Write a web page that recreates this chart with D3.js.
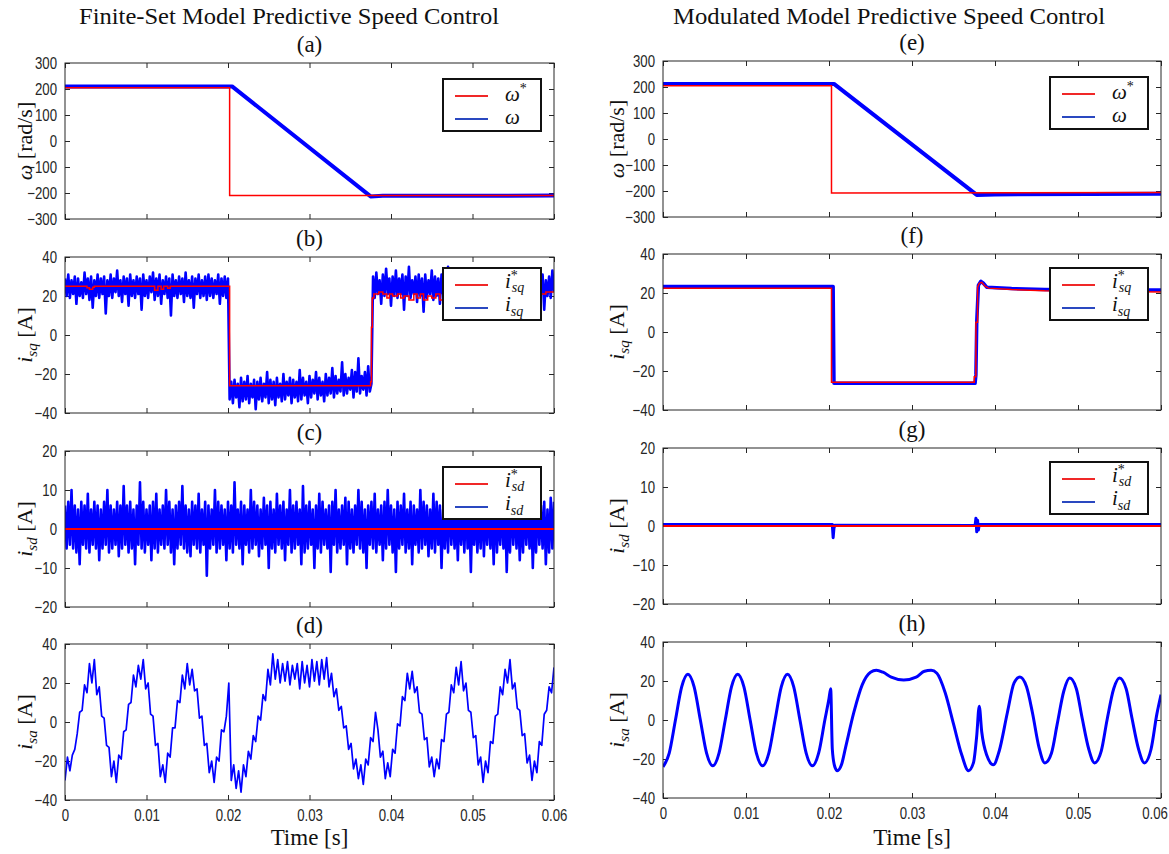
<!DOCTYPE html>
<html>
<head>
<meta charset="utf-8">
<script src="https://cdn.jsdelivr.net/npm/d3@7"></script>
<style>
body { margin: 0; background: #fff; }
.tick text { font-family: "Liberation Sans", Arial, sans-serif; font-size: 16.5px; fill: #262626; }
.tick line { stroke: #262626; }
</style>
</head>
<body>
<div id="chart"></div>
<script>
// ---- data ----
const timeTicks = [0, 0.01, 0.02, 0.03, 0.04, 0.05, 0.06];
const timeTickLabels = ["0", "0.01", "0.02", "0.03", "0.04", "0.05", "0.06"];
const speedTicks = [-300, -200, -100, 0, 100, 200, 300];
const isqTicks = [-40, -20, 0, 20, 40];
const isdTicks = [-20, -10, 0, 10, 20];
const isaTicks = [-40, -20, 0, 20, 40];

// (a) FCS speed  [t, value]
const speedRefFCS = [[0, 205], [0.0202, 205], [0.0202, -210], [0.06, -210]];
const speedFCS = [[0, 210], [0.0205, 210], [0.0375, -213], [0.039, -211], [0.06, -210]];

// (b) FCS i_sq : reference is a staircase, measured sampled every 0.2 ms
const isqRefFCS = [[0, 25], [0.0027, 24.2], [0.003, 23.5], [0.0034, 24.5], [0.0036, 25], [0.011, 23], [0.0114, 25],
  [0.0118, 23.5], [0.0121, 25], [0.0126, 24], [0.0129, 25], [0.0202, -26], [0.0375, -24], [0.0376, 4], [0.0377, 19],
  [0.0379, 21], [0.0385, 22], [0.039, 21], [0.0395, 19], [0.0398, 21], [0.0402, 20], [0.0408, 21], [0.0412, 19],
  [0.0416, 20], [0.0422, 18], [0.0428, 21], [0.0432, 19], [0.0436, 21], [0.044, 18], [0.0445, 20], [0.045, 19],
  [0.0455, 21], [0.046, 18], [0.0466, 20], [0.047, 19], [0.0478, 20], [0.0485, 18], [0.049, 20], [0.0498, 19],
  [0.0505, 21], [0.051, 19], [0.0518, 20], [0.0525, 18], [0.053, 20], [0.054, 19], [0.0548, 21], [0.0555, 19],
  [0.0565, 18], [0.057, 20], [0.058, 21], [0.059, 22], [0.06, 22]];
const isqFCS = [
  29, 20, 31, 19, 28, 21, 30, 16, 29, 20, 27, 19, 32, 21, 29, 18, 30, 14, 28, 20,
  31, 19, 29, 21, 30, 11, 28, 20, 31, 19, 29, 22, 33, 20, 28, 17, 30, 21, 29, 15,
  31, 20, 28, 19, 30, 21, 29, 13, 31, 20, 28, 19, 30, 22, 32, 18, 29, 20, 31, 16,
  28, 21, 30, 19, 29, 10, 31, 20, 28, 19, 30, 21, 29, 17, 32, 20, 28, 19, 30, 14,
  29, 21, 31, 19, 28, 20, 30, 18, 31, 20, 29, 19, 28, 21, 31, 16, 29, 20, 30, 19,
  29,
  -33, -24, -35, -23, -32, -25, -37, -22, -34, -24, -33, -21, -35, -25, -32, -23, -38, -24, -33, -22,
  -34, -25, -32, -19, -35, -23, -33, -24, -36, -22, -32, -25, -34, -20, -33, -24, -31, -22, -35, -23,
  -32, -24, -34, -18, -33, -22, -31, -24, -35, -21, -32, -23, -30, -19, -33, -22, -31, -24, -34, -20,
  -31, -22, -30, -17, -32, -21, -30, -23, -29, -14, -31, -20, -30, -22, -28, -18, -32, -19, -29, -12,
  -30, -21, -28, -19, -31, -16, -29, -25,
  30, 19, 32, 21, 28, 16, 31, 20, 34, 21, 29, 15, 30, 20, 33, 19, 29, 21, 31, 13,
  30, 20, 35, 19, 28, 21, 30, 17, 31, 20, 29, 12, 31, 19, 28, 21, 33, 18, 30, 20,
  29, 16, 31, 21, 30, 19, 35, 20, 28, 14, 31, 21, 29, 19, 32, 20, 30, 13, 29, 21,
  31, 18, 28, 20, 33, 19, 30, 21, 29, 15, 31, 20, 28, 19, 30, 12, 32, 21, 29, 18,
  31, 20, 28, 19, 34, 21, 30, 16, 29, 20, 31, 19, 28, 14, 30, 21, 29, 19, 33, 20,
  30, 18, 29, 21, 31, 13, 28, 20, 30, 19, 33, 22];

// (c) FCS i_sd, sampled every 0.2 ms
const isdRefFCS = [[0, 0], [0.06, 0]];
const isdFCS = [
  6, -5, 7, -4, 10, -5, 6, -6, 5, -9, 7, -4, 6, -5, 9, -6, 5, -4, 7, -5,
  6, -8, 5, -5, 7, -4, 10, -6, 6, -5, 5, -4, 7, -7, 6, -5, 11, -4, 6, -6,
  7, -5, 5, -9, 6, -4, 12, -5, 7, -6, 5, -4, 6, -8, 7, -5, 9, -6, 5, -4,
  6, -5, 10, -4, 7, -6, 5, -9, 6, -5, 7, -4, 11, -5, 6, -6, 5, -7, 7, -4,
  6, -5, 9, -6, 5, -4, 7, -12, 6, -5, 5, -4, 10, -6, 7, -5, 6, -4, 5, -8,
  7, -5, 6, -6, 12, -4, 5, -5, 7, -9, 6, -4, 5, -6, 10, -5, 7, -4, 6, -7,
  5, -5, 8, -4, 6, -10, 7, -5, 5, -6, 9, -4, 6, -5, 7, -8, 5, -4, 10, -6,
  6, -5, 7, -4, 5, -9, 11, -6, 6, -5, 7, -4, 5, -10, 6, -5, 9, -6, 7, -4,
  5, -5, 6, -11, 7, -4, 10, -6, 5, -5, 6, -4, 8, -9, 7, -5, 5, -6, 6, -4,
  10, -5, 7, -6, 5, -10, 6, -4, 7, -5, 9, -6, 5, -4, 6, -8, 7, -5, 10, -4,
  6, -6, 5, -11, 7, -5, 6, -4, 9, -6, 5, -5, 7, -9, 6, -4, 5, -6, 10, -5,
  7, -4, 6, -7, 5, -5, 9, -6, 7, -4, 6, -10, 5, -5, 7, -6, 10, -4, 6, -5,
  5, -8, 7, -4, 6, -6, 9, -5, 5, -11, 7, -4, 6, -6, 5, -5, 9, -7, 6, -4,
  7, -5, 6, -9, 10, -6, 5, -4, 7, -5, 6, -11, 5, -6, 9, -4, 7, -5, 6, -8,
  5, -6, 8, -4, 7, -5, 6, -10, 5, -6, 9, -4, 6, -5, 7, -9, 5, -6, 8, -5,
  7];

// (d) FCS i_sa, sampled every 0.3 ms
const isaFCS = [
  -30, -18, -25, -17, -14, -6, 5, 6, 19, 15, 30, 20, 32, 14, 18, 3, 2, -12, -13, -28,
  -20, -31, -17, -19, -5, -4, 9, 10, 24, 18, 29, 22, 32, 17, 20, 4, 3, -12, -11, -28,
  -22, -31, -16, -18, -3, -3, 11, 10, 24, 17, 30, 19, 27, 16, 17, 2, 3, -12, -11, -26,
  -20, -31, -18, -20, -4, -5, 3, 20, -30, -22, -34, -25, -36, -22, -28, -15, -19, -7, -10, 3,
  1, 14, 11, 27, 19, 35, 22, 32, 20, 30, 21, 31, 19, 29, 22, 30, 17, 31, 20, 29,
  18, 32, 21, 31, 19, 32, 22, 33, 18, 25, 13, 17, 6, 8, -3, -2, -14, -11, -24, -19,
  -29, -22, -32, -19, -22, -8, -10, 5, -4, -18, -15, -29, -21, -28, -14, -16, -1, -2, 13, 11,
  25, 17, 26, 15, 18, 5, 4, -9, -8, -23, -18, -28, -19, -24, -9, -10, 4, 5, 19, 15,
  28, 19, 31, 16, 20, 6, 5, -8, -7, -22, -18, -31, -20, -26, -10, -11, 3, 4, 18, 14,
  27, 20, 32, 17, 20, 7, 6, -7, -6, -21, -17, -30, -20, -26, -10, -12, 4, 6, 18, 15, 28];

// (e) MPC speed
const speedRefMPC = [[0, 205], [0.0203, 205], [0.0203, -208], [0.06, -206]];
const speedMPC = [[0, 212], [0.0206, 212], [0.0378, -215], [0.04, -213], [0.06, -211]];

// (f) MPC i_sq
const isqRefMPC = [[0, 22.5], [0.0203, 22.5], [0.0203, -25.8], [0.0375, -25.8], [0.0375, -23], [0.0377, -23],
  [0.0377, 5], [0.0379, 5], [0.0379, 23], [0.0381, 25], [0.0384, 25.5], [0.0388, 23.5], [0.0392, 22.5],
  [0.042, 21.8], [0.046, 21.2], [0.05, 21], [0.06, 20.5]];
const isqMPC = [[0, 23.3], [0.0205, 23.3], [0.0206, -26.3], [0.0376, -26.3], [0.0377, -22], [0.0378, 5],
  [0.038, 24], [0.0383, 26], [0.0386, 25], [0.039, 23], [0.042, 22.3], [0.046, 21.8], [0.05, 21.6], [0.06, 21.5]];

// (g) MPC i_sd
const isdRefMPC = [[0, 0], [0.06, 0]];
const isdMPC = [[0, 0.4], [0.0204, 0.4], [0.0205, -3], [0.0206, -0.5], [0.0207, 0.2], [0.0376, 0.1], [0.0377, 2],
  [0.0378, -1.5], [0.0379, 1.5], [0.038, -1], [0.0381, 0.4], [0.06, 0.4]];

// (h) MPC i_sa
const isaMPC = [[0, -24], [0.00075, -17], [0.0015, 0], [0.00225, 17], [0.003, 23.5], [0.00375, 17], [0.0045, 0],
  [0.00525, -17], [0.006, -23.5], [0.00675, -17], [0.0075, 0], [0.00825, 17], [0.009, 23.5], [0.00975, 17],
  [0.0105, 0], [0.01125, -17], [0.012, -23.5], [0.01275, -17], [0.0135, 0], [0.01425, 17], [0.015, 23.5],
  [0.01575, 17], [0.0165, 0], [0.01725, -17], [0.018, -23.5], [0.01875, -17], [0.0195, 0], [0.02, 11],
  [0.0202, 16], [0.0204, -15], [0.0207, -24], [0.021, -26], [0.0215, -23], [0.022, -14], [0.023, 4],
  [0.024, 18], [0.025, 24.5], [0.0257, 25.5], [0.0265, 24.5], [0.0275, 22], [0.029, 20.5], [0.0305, 22],
  [0.0315, 25], [0.0323, 25.5], [0.033, 24], [0.034, 14], [0.035, -2], [0.036, -18], [0.0368, -26],
  [0.0374, -22], [0.0378, -8], [0.0381, 7], [0.0384, -6], [0.039, -18], [0.0398, -23], [0.0405, -16],
  [0.0415, 4], [0.0423, 19], [0.043, 22], [0.0438, 17], [0.0445, 4], [0.0453, -14], [0.046, -22],
  [0.0468, -17], [0.0475, -2], [0.0483, 15], [0.049, 21.5], [0.0498, 16], [0.0505, 1], [0.0513, -15],
  [0.052, -22], [0.0528, -16], [0.0535, 0], [0.0543, 16], [0.055, 21.5], [0.0558, 16], [0.0565, 1],
  [0.0573, -15], [0.058, -22], [0.0588, -15], [0.0595, 3], [0.06, 13]];

// ---- layout ----
const svgWidth = 1169, svgHeight = 854;
const serif = '"Liberation Serif", "DejaVu Serif", serif';
const red = "#ff0000", blue = "#0000ff";
const legendRed = "#f02828", legendBlue = "#2a48c0";
const panelH = 156;
const cols = [
  { x: 65, w: 489, tops: [63, 257, 451, 644], ylabX: 32, titleX: 289, titleW: 420,
    title: "Finite-Set Model Predictive Speed Control" },
  { x: 663, w: 498, tops: [61, 254, 448, 642], ylabX: 624, titleX: 889, titleW: 432,
    title: "Modulated Model Predictive Speed Control" }
];

const sampled = arr => arr.map((v, i) => [i * 0.06 / (arr.length - 1), v]);

const panels = [
  { col: 0, row: 0, tag: "(a)", dom: [-300, 300], ticks: speedTicks, sym: "ω", sub: null, unit: "[rad/s]",
    meas: speedFCS, measW: 4, ref: speedRefFCS, refW: 1.5, leg: 16 },
  { col: 0, row: 1, tag: "(b)", dom: [-40, 40], ticks: isqTicks, sym: "i", sub: "sq", unit: "[A]",
    meas: sampled(isqFCS), measW: 2.6, ref: isqRefFCS, refW: 1.5, refStep: true, leg: 11 },
  { col: 0, row: 2, tag: "(c)", dom: [-20, 20], ticks: isdTicks, sym: "i", sub: "sd", unit: "[A]",
    meas: sampled(isdFCS), measW: 2.6, ref: isdRefFCS, refW: 2, leg: 16 },
  { col: 0, row: 3, tag: "(d)", dom: [-40, 40], ticks: isaTicks, sym: "i", sub: "sa", unit: "[A]",
    meas: sampled(isaFCS), measW: 1.7, ref: null, leg: null },
  { col: 1, row: 0, tag: "(e)", dom: [-300, 300], ticks: speedTicks, sym: "ω", sub: null, unit: "[rad/s]",
    meas: speedMPC, measW: 4, ref: speedRefMPC, refW: 1.5, leg: 16 },
  { col: 1, row: 1, tag: "(f)", dom: [-40, 40], ticks: isqTicks, sym: "i", sub: "sq", unit: "[A]",
    meas: isqMPC, measW: 3.5, ref: isqRefMPC, refW: 1.5, leg: 14 },
  { col: 1, row: 2, tag: "(g)", dom: [-20, 20], ticks: isdTicks, sym: "i", sub: "sd", unit: "[A]",
    meas: isdMPC, measW: 3, ref: isdRefMPC, refW: 2, leg: 14 },
  { col: 1, row: 3, tag: "(h)", dom: [-40, 40], ticks: isaTicks, sym: "i", sub: "sa", unit: "[A]",
    meas: isaMPC, measW: 3, smooth: true, ref: null, leg: null }
];

const svg = d3.select("#chart").append("svg")
  .attr("width", svgWidth)
  .attr("height", svgHeight);
const defs = svg.append("defs");

// column titles and time labels
cols.forEach(c => {
  svg.append("text")
    .attr("x", c.titleX).attr("y", 24)
    .attr("text-anchor", "middle")
    .attr("textLength", c.titleW).attr("lengthAdjust", "spacingAndGlyphs")
    .style("font-family", serif).style("font-size", "23px").style("fill", "#111")
    .text(c.title);
  svg.append("text")
    .attr("x", c.x + c.w / 2).attr("y", 845)
    .attr("text-anchor", "middle")
    .style("font-family", serif).style("font-size", "23px").style("fill", "#111")
    .text("Time [s]");
});

function mathLabel(text, sym, sub, star, big, small) {
  text.append("tspan").style("font-style", "italic").style("font-size", big + "px").text(sym);
  if (star) text.append("tspan").style("font-size", small + "px").attr("dy", -8).text("*");
  if (sub) text.append("tspan").style("font-style", "italic").style("font-size", small + "px")
    .attr("dx", star ? -6 : 0).attr("dy", star ? 12 : 5).text(sub);
  return text;
}

panels.forEach((p, k) => {
  const c = cols[p.col];
  const top = c.tops[p.row];
  const g = svg.append("g").attr("transform", `translate(${c.x}, ${top})`);

  const x = d3.scaleLinear().domain([0, 0.06]).range([0, c.w]);
  const y = d3.scaleLinear().domain(p.dom).range([panelH, 0]);

  // panel letter
  g.append("text")
    .attr("x", c.w / 2).attr("y", -11)
    .attr("text-anchor", "middle")
    .style("font-family", serif).style("font-size", "23px").style("fill", "#111")
    .text(p.tag);

  // axes: inward ticks on all four sides, condensed labels
  const last = p.row === 3;
  const bottom = g.append("g").attr("transform", `translate(0, ${panelH})`)
    .call(d3.axisBottom(x).tickValues(timeTicks).tickSize(-5).tickPadding(9)
      .tickFormat((d, i) => last ? timeTickLabels[i] : ""));
  g.append("g")
    .call(d3.axisTop(x).tickValues(timeTicks).tickSize(-5).tickFormat(""));
  g.append("g")
    .call(d3.axisLeft(y).tickValues(p.ticks).tickSize(-5).tickPadding(10));
  g.append("g").attr("transform", `translate(${c.w}, 0)`)
    .call(d3.axisRight(y).tickValues(p.ticks).tickSize(-5).tickFormat(""));
  g.selectAll(".domain").remove();
  g.selectAll(".tick text").attr("transform", "scale(0.8,1)");
  // keep the last time label inside the page on the right column
  if (last && p.col === 1) bottom.selectAll(".tick text").filter((d, i) => i === timeTicks.length - 1).attr("dx", -8);

  // data
  defs.append("clipPath").attr("id", "clip" + k)
    .append("rect").attr("width", c.w).attr("height", panelH);
  const plot = g.append("g").attr("clip-path", `url(#clip${k})`);
  const line = d3.line().x(d => x(d[0])).y(d => y(d[1]));

  plot.append("path").datum(p.meas)
    .attr("d", p.smooth ? line.curve(d3.curveMonotoneX) : line)
    .attr("fill", "none").attr("stroke", blue)
    .attr("stroke-width", p.measW).attr("stroke-linejoin", "round");
  line.curve(d3.curveLinear);
  if (p.ref) {
    plot.append("path").datum(p.ref)
      .attr("d", p.refStep ? line.curve(d3.curveStepAfter) : line)
      .attr("fill", "none").attr("stroke", red)
      .attr("stroke-width", p.refW);
    line.curve(d3.curveLinear);
  }

  // box
  g.append("rect")
    .attr("width", c.w).attr("height", panelH)
    .attr("fill", "none").attr("stroke", "#262626").attr("stroke-width", 1);

  // y label
  const yl = g.append("text")
    .attr("transform", `translate(${c.ylabX - c.x}, ${panelH / 2}) rotate(-90)`)
    .attr("text-anchor", "middle")
    .style("font-family", serif).style("fill", "#111");
  mathLabel(yl, p.sym, p.sub, false, 22, 15);
  yl.append("tspan").style("font-size", "22px").attr("dy", p.sub ? -5 : 0).text(" " + p.unit);

  // legend
  if (p.leg !== null) {
    const lg = g.append("g").attr("transform", `translate(${c.w - 111}, ${p.leg})`);
    lg.append("rect").attr("width", 98).attr("height", 52)
      .attr("fill", "#fff").attr("stroke", "#111").attr("stroke-width", 2);
    [[legendRed, true], [legendBlue, false]].forEach(([col, star], j) => {
      const yy = 17 + j * 23;
      lg.append("line").attr("x1", 12).attr("x2", 45).attr("y1", yy).attr("y2", yy)
        .attr("stroke", col).attr("stroke-width", 2);
      const t = lg.append("text").attr("x", 62).attr("y", yy + (p.sub ? 3 : 5))
        .style("font-family", serif).style("fill", "#111");
      mathLabel(t, p.sym, p.sub, star, 21, 14);
    });
  }
});
</script>
</body>
</html>
